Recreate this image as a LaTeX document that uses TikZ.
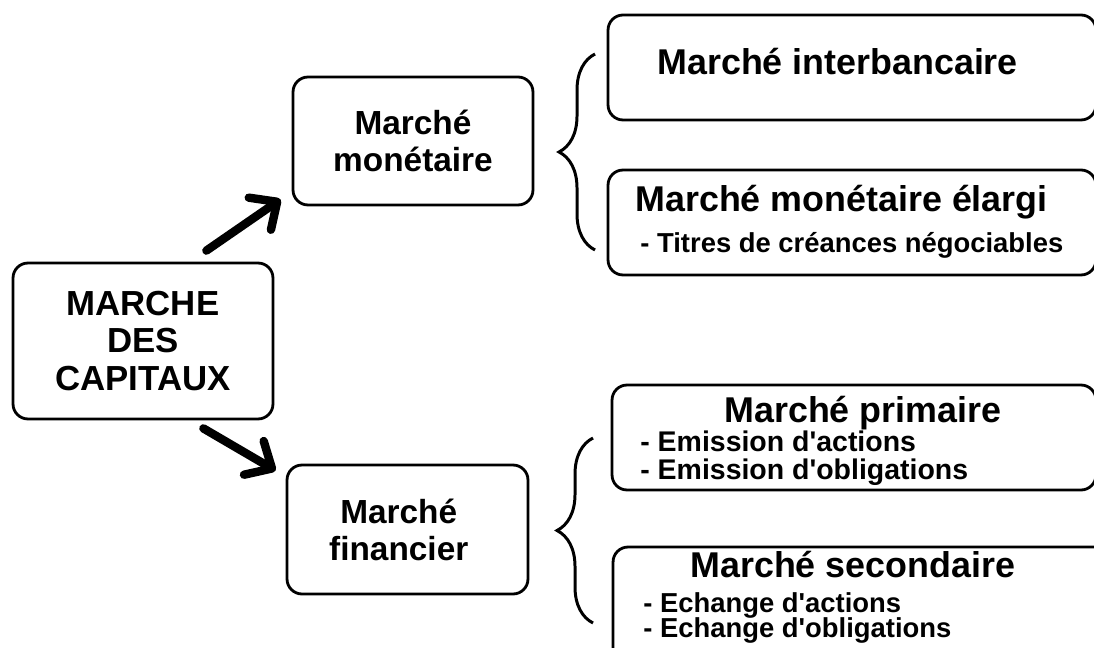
\documentclass[tikz,border=0pt]{standalone}
\usepackage{fontspec}
\newfontfamily\arialfont{Liberation Sans}
\usetikzlibrary{arrows.meta, decorations.pathreplacing}
\tikzstyle{mainbox} = [rectangle, rounded corners=0.3cm, draw=black, line width=1.6pt, align=center, font=\arialfont\bfseries\fontsize{19}{21}\selectfont]
\tikzstyle{sidebox} = [rectangle, rounded corners=0.3cm, draw=black, line width=1.6pt, minimum height=2.1cm]
\tikzstyle{headtext} = [inner sep=0pt, anchor=base west, font=\arialfont\bfseries\fontsize{20.4}{24}\selectfont]
\tikzstyle{itemtext} = [inner sep=0pt, anchor=base west, font=\arialfont\bfseries\fontsize{15.6}{18}\selectfont]
\tikzstyle{bigarrow} = [line width=4.8pt, line cap=round, -{Straight Barb[length=0.42cm,width=0.78cm,round]}]
\tikzstyle{curly} = [decorate, decoration={brace, amplitude=0.72cm}, line width=1.7pt]

\begin{document}
\begin{tikzpicture}[x=0.02cm, y=-0.02cm]
\useasboundingbox (0,0) rectangle (1094,648);
\clip (0,0) rectangle (1094,648);

\node (capitaux) [mainbox, minimum width=5.2cm, minimum height=3.12cm, font=\arialfont\bfseries\fontsize{19.8}{21.2}\selectfont] at (143,341) {MARCHE\\DES\\CAPITAUX};
\node (monet) [mainbox, minimum width=4.8cm, minimum height=2.56cm] at (413,141) {Marché\\monétaire};
\node (finan) [mainbox, minimum width=4.82cm, minimum height=2.58cm] at (407.5,529.5) {Marché\hspace*{0.35cm}\\financier\hspace*{0.35cm}};

\node (inter) [sidebox, minimum width=9.76cm] at (852,67.5) {};
\node (elargi) [sidebox, minimum width=9.76cm] at (852,222.5) {};
\node (prim) [sidebox, minimum width=9.68cm] at (854,437.5) {};
\node (second) [sidebox, minimum width=10.14cm, minimum height=3.06cm] at (866.5,623.5) {};

\node (t1) [headtext] at (657,75) {Marché interbancaire};
\node (t2) [headtext] at (635,212) {Marché monétaire élargi};
\node (t2a) [itemtext] at (640,253) {- Titres de créances négociables};
\node (t3) [headtext] at (724,422) {Marché primaire};
\node (t3a) [itemtext, font=\arialfont\bfseries\fontsize{16.2}{18}\selectfont] at (640,451) {- Emission d'actions};
\node (t3b) [itemtext, font=\arialfont\bfseries\fontsize{16.2}{18}\selectfont] at (640,479) {- Emission d'obligations};
\node (t4) [headtext] at (690,577) {Marché secondaire};
\node (t4a) [itemtext] at (643,612) {- Echange d'actions};
\node (t4b) [itemtext] at (643,637) {- Echange d'obligations};

\draw [bigarrow] ([shift={(-68,-11)}]capitaux.north east) -- ([shift={(-11,-7)}]monet.south west);
\draw [bigarrow] ([shift={(-71,8)}]capitaux.south east) -- ([shift={(-10,7)}]finan.north west);

\draw [curly] (595,250) -- (595,54);
\draw [curly] (593,623) -- (593,438);

\end{tikzpicture}
\end{document}
